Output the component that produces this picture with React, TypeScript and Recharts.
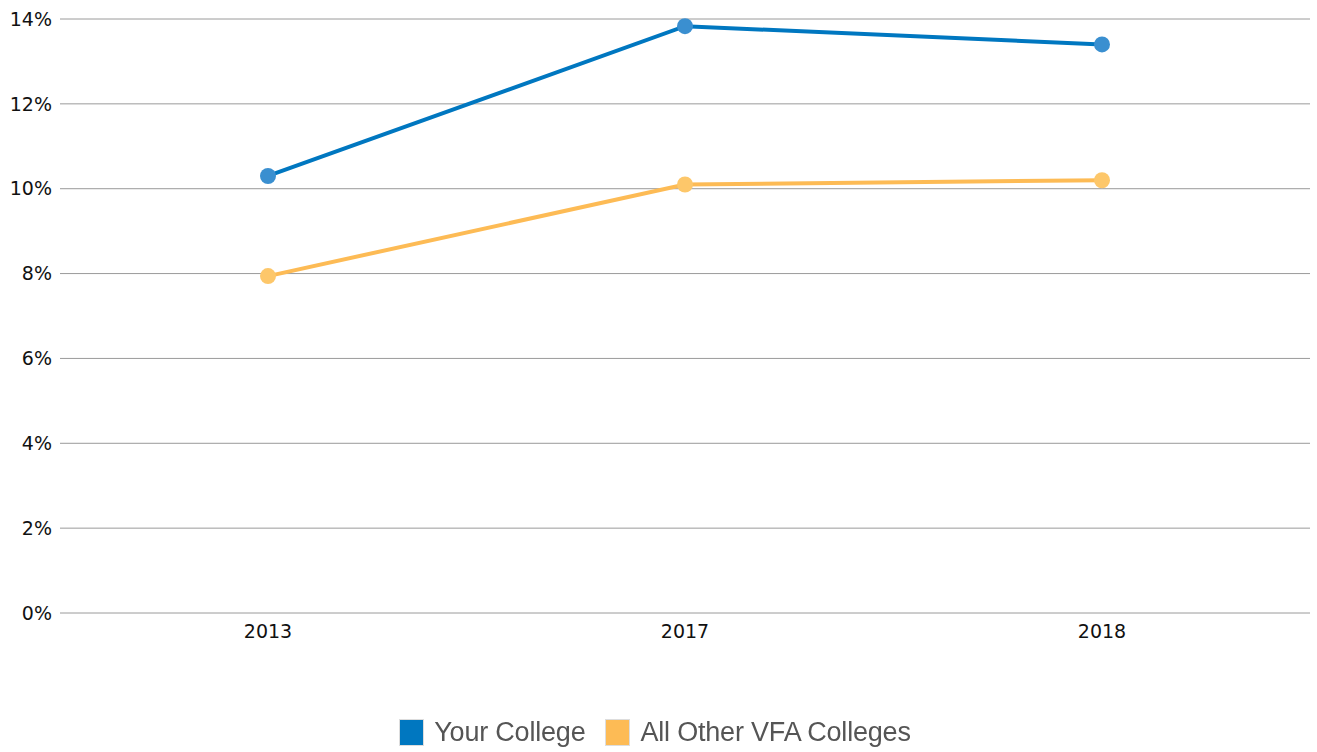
import { LineChart, Line, XAxis, YAxis, CartesianGrid, Legend } from 'recharts';

const years = ['2013', '2017', '2018'];
const yourCollege = [10.3, 13.83, 13.4];
const otherColleges = [7.94, 10.1, 10.2];
const yTicks = [0, 2, 4, 6, 8, 10, 12, 14];

const data = years.map((year, i) => ({
  year,
  yours: yourCollege[i],
  others: otherColleges[i],
}));

const legendItems = [
  { label: 'Your College', color: '#0077c0' },
  { label: 'All Other VFA Colleges', color: '#fdbb55' },
];

function ChartLegend() {
  return (
    <div style={{ display: 'flex', justifyContent: 'center', alignItems: 'center', height: 40, paddingLeft: 20 }}>
      {legendItems.map((item) => (
        <div key={item.label} style={{ display: 'flex', alignItems: 'center', marginRight: 20 }}>
          <span
            style={{
              width: 25,
              height: 27,
              background: item.color,
              border: '1px solid #ddd',
              boxSizing: 'border-box',
              marginRight: 10,
            }}
          />
          <span
            style={{
              fontFamily: '"Liberation Sans", Arial, sans-serif',
              fontSize: 27,
              color: '#555',
              letterSpacing: -0.2,
              filter: 'blur(0.4px)',
            }}
          >
            {item.label}
          </span>
        </div>
      ))}
    </div>
  );
}

export default function App() {
  const tick = { fill: '#111', fontSize: 19, fontFamily: '"DejaVu Sans", Verdana, sans-serif' };
  return (
    <div style={{ position: 'absolute', top: 0, left: 0, background: '#fff' }}>
      <LineChart width={1317} height={752} data={data} margin={{ top: 19, right: 7, bottom: 0, left: 0 }}>
        <CartesianGrid horizontal vertical={false} stroke="#9a9a9a" strokeWidth={1} />
        <XAxis
          dataKey="year"
          height={99}
          tick={tick}
          tickLine={false}
          axisLine={false}
          tickMargin={6}
          padding={{ left: 208, right: 208 }}
        />
        <YAxis
          width={60}
          domain={[0, 14]}
          ticks={yTicks}
          tickFormatter={(v) => `${v}%`}
          tick={tick}
          tickLine={false}
          axisLine={false}
          interval={0}
        />
        <Legend verticalAlign="bottom" height={40} content={<ChartLegend />} />
        <Line
          type="linear"
          dataKey="yours"
          stroke="#0077c0"
          strokeWidth={4}
          dot={{ r: 8, fill: '#3a8fd0', stroke: 'none' }}
          activeDot={false}
          isAnimationActive={false}
        />
        <Line
          type="linear"
          dataKey="others"
          stroke="#fdbb55"
          strokeWidth={4}
          dot={{ r: 8, fill: '#fdc76a', stroke: 'none' }}
          activeDot={false}
          isAnimationActive={false}
        />
      </LineChart>
    </div>
  );
}
